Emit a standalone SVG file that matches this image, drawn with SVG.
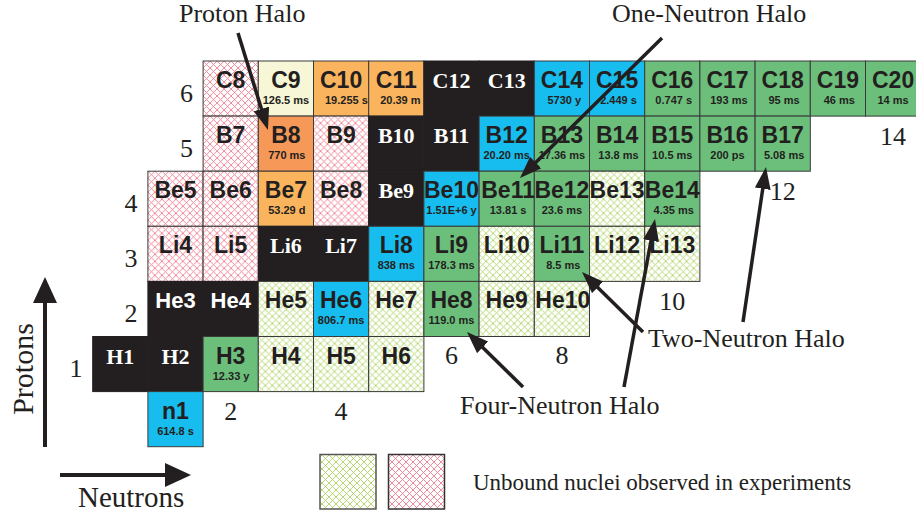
<svg xmlns="http://www.w3.org/2000/svg" width="916" height="515" viewBox="0 0 916 515">
<defs>
<pattern id="hp" patternUnits="userSpaceOnUse" width="7" height="7">
<rect width="7" height="7" fill="#ffffff"/>
<path d="M0,0 L7,7 M7,0 L0,7" stroke="#ee7d90" stroke-width="0.9" fill="none"/>
</pattern>
<pattern id="hg" patternUnits="userSpaceOnUse" width="7" height="7">
<rect width="7" height="7" fill="#ffffff"/>
<path d="M0,0 L7,7 M7,0 L0,7" stroke="#afd363" stroke-width="0.9" fill="none"/>
</pattern>
<marker id="ah" viewBox="0 0 22 16" refX="12" refY="8" markerWidth="22" markerHeight="16" markerUnits="userSpaceOnUse" orient="auto">
<path d="M0,0 L22,8 L0,16 Z" fill="#231f20"/>
</marker>
<marker id="ax" viewBox="0 0 26 24" refX="14" refY="12" markerWidth="26" markerHeight="24" markerUnits="userSpaceOnUse" orient="auto">
<path d="M0,0 L26,12 L0,24 Z" fill="#231f20"/>
</marker>
</defs>
<style>
.c{stroke:#3a3a3a;stroke-width:1}
.g{fill:#6cbf7b}
.b{fill:#17bdee}
.o{fill:#fbb45e}
.r{fill:#f69858}
.y{fill:#f7f6d6}
.k{fill:#231f20;stroke:#231f20}
.p{fill:url(#hp)}
.h{fill:url(#hg)}
.l{font-family:"Liberation Sans",Arial,sans-serif;font-weight:bold;font-size:23px;text-anchor:middle;fill:#231f20}
.lw{font-family:"Liberation Serif","Times New Roman",serif;font-weight:bold;font-size:22px;text-anchor:middle;fill:#ffffff}
.ls{font-family:"Liberation Sans",Arial,sans-serif;font-weight:bold;font-size:22px;text-anchor:middle;fill:#ffffff}
.t{font-family:"Liberation Sans",Arial,sans-serif;font-weight:bold;font-size:11px;text-anchor:middle;fill:#231f20}
.n{font-family:"Liberation Serif","Times New Roman",serif;font-size:26px;text-anchor:middle;fill:#231f20}
.a{font-family:"Liberation Serif","Times New Roman",serif;font-size:26px;fill:#231f20}
.ar{stroke:#231f20;stroke-width:3.5;fill:none;marker-end:url(#ah)}
.axl{stroke:#231f20;stroke-width:4;fill:none;marker-end:url(#ax)}
</style>
<rect width="916" height="515" fill="#ffffff"/>

<!-- Z=6 Carbon -->
<g id="C8" transform="translate(203.1,61)"><rect class="c p" width="55.2" height="55.1"/><text class="l" x="27.6" y="27">C8</text></g>
<g id="C9" transform="translate(258.3,61)"><rect class="c y" width="55.2" height="55.1"/><text class="l" x="27.6" y="27">C9</text><text class="t" x="27.6" y="43">126.5 ms</text></g>
<g id="C10" transform="translate(313.5,61)"><rect class="c o" width="55.2" height="55.1"/><text class="l" x="27.6" y="27">C10</text><text class="t" x="11.5" y="43" style="text-anchor:start">19.255 s</text></g>
<g id="C11" transform="translate(368.7,61)"><rect class="c o" width="55.2" height="55.1"/><text class="l" x="27.6" y="27">C11</text><text class="t" x="11.5" y="43" style="text-anchor:start">20.39 m</text></g>
<g id="C12" transform="translate(423.9,61)"><rect class="k" width="55.2" height="55.1"/><text class="lw" x="27.6" y="27">C12</text></g>
<g id="C13" transform="translate(479.1,61)"><rect class="k" width="55.2" height="55.1"/><text class="lw" x="27.6" y="27">C13</text></g>
<g id="C14" transform="translate(534.3,61)"><rect class="c b" width="55.2" height="55.1"/><text class="l" x="27.6" y="27">C14</text><text class="t" x="30" y="43">5730 y</text></g>
<g id="C15" transform="translate(589.5,61)"><rect class="c b" width="55.2" height="55.1"/><text class="l" x="27.6" y="27">C15</text><text class="t" x="29" y="43">2.449 s</text></g>
<g id="C16" transform="translate(644.7,61)"><rect class="c g" width="55.2" height="55.1"/><text class="l" x="27.6" y="27">C16</text><text class="t" x="29" y="43">0.747 s</text></g>
<g id="C17" transform="translate(699.9,61)"><rect class="c g" width="55.2" height="55.1"/><text class="l" x="27.6" y="27">C17</text><text class="t" x="29" y="43">193 ms</text></g>
<g id="C18" transform="translate(755.1,61)"><rect class="c g" width="55.2" height="55.1"/><text class="l" x="27.6" y="27">C18</text><text class="t" x="29" y="43">95 ms</text></g>
<g id="C19" transform="translate(810.3,61)"><rect class="c g" width="55.2" height="55.1"/><text class="l" x="27.6" y="27">C19</text><text class="t" x="29" y="43">46 ms</text></g>
<g id="C20" transform="translate(865.5,61)"><rect class="c g" width="55.2" height="55.1"/><text class="l" x="27.6" y="27">C20</text><text class="t" x="27.6" y="43">14 ms</text></g>

<!-- Z=5 Boron -->
<g id="B7" transform="translate(203.1,116.1)"><rect class="c p" width="55.2" height="55.1"/><text class="l" x="27.6" y="27">B7</text></g>
<g id="B8" transform="translate(258.3,116.1)"><rect class="c r" width="55.2" height="55.1"/><text class="l" x="27.6" y="27">B8</text><text class="t" x="28.5" y="43">770 ms</text></g>
<g id="B9" transform="translate(313.5,116.1)"><rect class="c p" width="55.2" height="55.1"/><text class="l" x="27.6" y="27">B9</text></g>
<g id="B10" transform="translate(368.7,116.1)"><rect class="k" width="55.2" height="55.1"/><text class="lw" x="27.6" y="27">B10</text></g>
<g id="B11" transform="translate(423.9,116.1)"><rect class="k" width="55.2" height="55.1"/><text class="lw" x="27.6" y="27">B11</text></g>
<g id="B12" transform="translate(479.1,116.1)"><rect class="c b" width="55.2" height="55.1"/><text class="l" x="27.6" y="27">B12</text><text class="t" x="27.6" y="43">20.20 ms</text></g>
<g id="B13" transform="translate(534.3,116.1)"><rect class="c g" width="55.2" height="55.1"/><text class="l" x="27.6" y="27">B13</text><text class="t" x="27.6" y="43">17.36 ms</text></g>
<g id="B14" transform="translate(589.5,116.1)"><rect class="c g" width="55.2" height="55.1"/><text class="l" x="27.6" y="27">B14</text><text class="t" x="29" y="43">13.8 ms</text></g>
<g id="B15" transform="translate(644.7,116.1)"><rect class="c g" width="55.2" height="55.1"/><text class="l" x="27.6" y="27">B15</text><text class="t" x="27.6" y="43">10.5 ms</text></g>
<g id="B16" transform="translate(699.9,116.1)"><rect class="c g" width="55.2" height="55.1"/><text class="l" x="27.6" y="27">B16</text><text class="t" x="27.6" y="43">200 ps</text></g>
<g id="B17" transform="translate(755.1,116.1)"><rect class="c g" width="55.2" height="55.1"/><text class="l" x="27.6" y="27">B17</text><text class="t" x="29" y="43">5.08 ms</text></g>

<!-- Z=4 Beryllium -->
<g id="Be5" transform="translate(147.9,171.2)"><rect class="c p" width="55.2" height="55.1"/><text class="l" x="27.6" y="27">Be5</text></g>
<g id="Be6" transform="translate(203.1,171.2)"><rect class="c p" width="55.2" height="55.1"/><text class="l" x="27.6" y="27">Be6</text></g>
<g id="Be7" transform="translate(258.3,171.2)"><rect class="c o" width="55.2" height="55.1"/><text class="l" x="27.6" y="27">Be7</text><text class="t" x="28.5" y="43">53.29 d</text></g>
<g id="Be8" transform="translate(313.5,171.2)"><rect class="c p" width="55.2" height="55.1"/><text class="l" x="27.6" y="27">Be8</text></g>
<g id="Be9" transform="translate(368.7,171.2)"><rect class="k" width="55.2" height="55.1"/><text class="lw" x="27.6" y="27">Be9</text></g>
<g id="Be10" transform="translate(423.9,171.2)"><rect class="c b" width="55.2" height="55.1"/><text class="l" x="27.6" y="27">Be10</text><text class="t" x="27.6" y="43">1.51E+6 y</text></g>
<g id="Be11" transform="translate(479.1,171.2)"><rect class="c g" width="55.2" height="55.1"/><text class="l" x="29" y="27">Be11</text><text class="t" x="29" y="43">13.81 s</text></g>
<g id="Be12" transform="translate(534.3,171.2)"><rect class="c g" width="55.2" height="55.1"/><text class="l" x="27.6" y="27">Be12</text><text class="t" x="27.6" y="43">23.6 ms</text></g>
<g id="Be13" transform="translate(589.5,171.2)"><rect class="c h" width="55.2" height="55.1"/><text class="l" x="27.6" y="27">Be13</text></g>
<g id="Be14" transform="translate(644.7,171.2)"><rect class="c g" width="55.2" height="55.1"/><text class="l" x="27.6" y="27">Be14</text><text class="t" x="29" y="43">4.35 ms</text></g>

<!-- Z=3 Lithium -->
<g id="Li4" transform="translate(147.9,226.3)"><rect class="c p" width="55.2" height="55.1"/><text class="l" x="27.6" y="27">Li4</text></g>
<g id="Li5" transform="translate(203.1,226.3)"><rect class="c p" width="55.2" height="55.1"/><text class="l" x="27.6" y="27">Li5</text></g>
<g id="Li6" transform="translate(258.3,226.3)"><rect class="k" width="55.2" height="55.1"/><text class="lw" x="27.6" y="27">Li6</text></g>
<g id="Li7" transform="translate(313.5,226.3)"><rect class="k" width="55.2" height="55.1"/><text class="lw" x="27.6" y="27">Li7</text></g>
<g id="Li8" transform="translate(368.7,226.3)"><rect class="c b" width="55.2" height="55.1"/><text class="l" x="27.6" y="27">Li8</text><text class="t" x="27.6" y="43">838 ms</text></g>
<g id="Li9" transform="translate(423.9,226.3)"><rect class="c g" width="55.2" height="55.1"/><text class="l" x="27.6" y="27">Li9</text><text class="t" x="27.6" y="43">178.3 ms</text></g>
<g id="Li10" transform="translate(479.1,226.3)"><rect class="c h" width="55.2" height="55.1"/><text class="l" x="27.6" y="27">Li10</text></g>
<g id="Li11" transform="translate(534.3,226.3)"><rect class="c g" width="55.2" height="55.1"/><text class="l" x="27.6" y="27">Li11</text><text class="t" x="29" y="43">8.5 ms</text></g>
<g id="Li12" transform="translate(589.5,226.3)"><rect class="c h" width="55.2" height="55.1"/><text class="l" x="27.6" y="27">Li12</text></g>
<g id="Li13" transform="translate(644.7,226.3)"><rect class="c h" width="55.2" height="55.1"/><text class="l" x="27.6" y="27">Li13</text></g>

<!-- Z=2 Helium -->
<g id="He3" transform="translate(147.9,281.4)"><rect class="k" width="55.2" height="55.1"/><text class="ls" x="27.6" y="27">He3</text></g>
<g id="He4" transform="translate(203.1,281.4)"><rect class="k" width="55.2" height="55.1"/><text class="ls" x="27.6" y="27">He4</text></g>
<g id="He5" transform="translate(258.3,281.4)"><rect class="c h" width="55.2" height="55.1"/><text class="l" x="27.6" y="27">He5</text></g>
<g id="He6" transform="translate(313.5,281.4)"><rect class="c b" width="55.2" height="55.1"/><text class="l" x="27.6" y="27">He6</text><text class="t" x="27.6" y="43">806.7 ms</text></g>
<g id="He7" transform="translate(368.7,281.4)"><rect class="c h" width="55.2" height="55.1"/><text class="l" x="27.6" y="27">He7</text></g>
<g id="He8" transform="translate(423.9,281.4)"><rect class="c g" width="55.2" height="55.1"/><text class="l" x="27.6" y="27">He8</text><text class="t" x="27.6" y="43">119.0 ms</text></g>
<g id="He9" transform="translate(479.1,281.4)"><rect class="c h" width="55.2" height="55.1"/><text class="l" x="27.6" y="27">He9</text></g>
<g id="He10" transform="translate(534.3,281.4)"><rect class="c h" width="55.2" height="55.1"/><text class="l" x="28.5" y="27">He10</text></g>

<!-- Z=1 Hydrogen -->
<g id="H1" transform="translate(92.7,336.5)"><rect class="k" width="55.2" height="55.1"/><text class="lw" x="27.6" y="27">H1</text></g>
<g id="H2" transform="translate(147.9,336.5)"><rect class="k" width="55.2" height="55.1"/><text class="lw" x="27.6" y="27">H2</text></g>
<g id="H3" transform="translate(203.1,336.5)"><rect class="c g" width="55.2" height="55.1"/><text class="l" x="27.6" y="27">H3</text><text class="t" x="28" y="43">12.33 y</text></g>
<g id="H4" transform="translate(258.3,336.5)"><rect class="c h" width="55.2" height="55.1"/><text class="l" x="27.6" y="27">H4</text></g>
<g id="H5" transform="translate(313.5,336.5)"><rect class="c h" width="55.2" height="55.1"/><text class="l" x="27.6" y="27">H5</text></g>
<g id="H6" transform="translate(368.7,336.5)"><rect class="c h" width="55.2" height="55.1"/><text class="l" x="27.6" y="27">H6</text></g>

<!-- Z=0 neutron -->
<g id="n1" transform="translate(147.9,391.6)"><rect class="c b" width="55.2" height="55.1"/><text class="l" x="27.6" y="27">n1</text><text class="t" x="27.6" y="43">614.8 s</text></g>

<!-- axis numbers -->
<g id="numbers">
<text class="n" x="186.5" y="102">6</text>
<text class="n" x="186.5" y="157">5</text>
<text class="n" x="131" y="212">4</text>
<text class="n" x="131" y="267">3</text>
<text class="n" x="131" y="322">2</text>
<text class="n" x="76" y="377">1</text>
<text class="n" x="230.7" y="420">2</text>
<text class="n" x="341.1" y="420">4</text>
<text class="n" x="451.5" y="364">6</text>
<text class="n" x="561.9" y="364">8</text>
<text class="n" x="672.3" y="310">10</text>
<text class="n" x="782.7" y="200">12</text>
<text class="n" x="893" y="145">14</text>
</g>

<!-- labels -->
<g id="labels">
<text class="a" x="179" y="22">Proton Halo</text>
<text class="a" x="612" y="22">One-Neutron Halo</text>
<text class="a" x="648" y="347">Two-Neutron Halo</text>
<text class="a" x="460" y="414">Four-Neutron Halo</text>
<text class="a" x="0" y="0" style="font-size:30px;text-anchor:middle" transform="translate(33,369) rotate(-90)">Protons</text>
<text class="a" x="78" y="507" style="font-size:29px">Neutrons</text>
<text class="a" x="473" y="490" style="font-size:23px">Unbound nuclei observed in experiments</text>
</g>

<!-- connectors -->
<g id="connectors">
<line class="ar" x1="238" y1="33" x2="265" y2="120.4"/>
<line class="ar" x1="662" y1="38" x2="527.1" y2="171"/>
<line class="ar" x1="643" y1="332" x2="589.1" y2="279"/>
<line class="ar" x1="523" y1="387" x2="474.1" y2="339"/>
<line class="ar" x1="624" y1="387" x2="653.2" y2="228.8"/>
<line class="ar" x1="743" y1="322" x2="764.5" y2="176.9"/>
<line class="axl" x1="45" y1="447" x2="45" y2="289"/>
<line class="axl" x1="60" y1="475" x2="179" y2="475"/>
</g>

<!-- legend -->
<g id="legend">
<rect x="320" y="454.5" width="56" height="54.5" fill="url(#hg)" stroke="#555" stroke-width="1.5"/>
<rect x="388.5" y="454.5" width="56" height="54.5" fill="url(#hp)" stroke="#333" stroke-width="1.5"/>
</g>
</svg>
